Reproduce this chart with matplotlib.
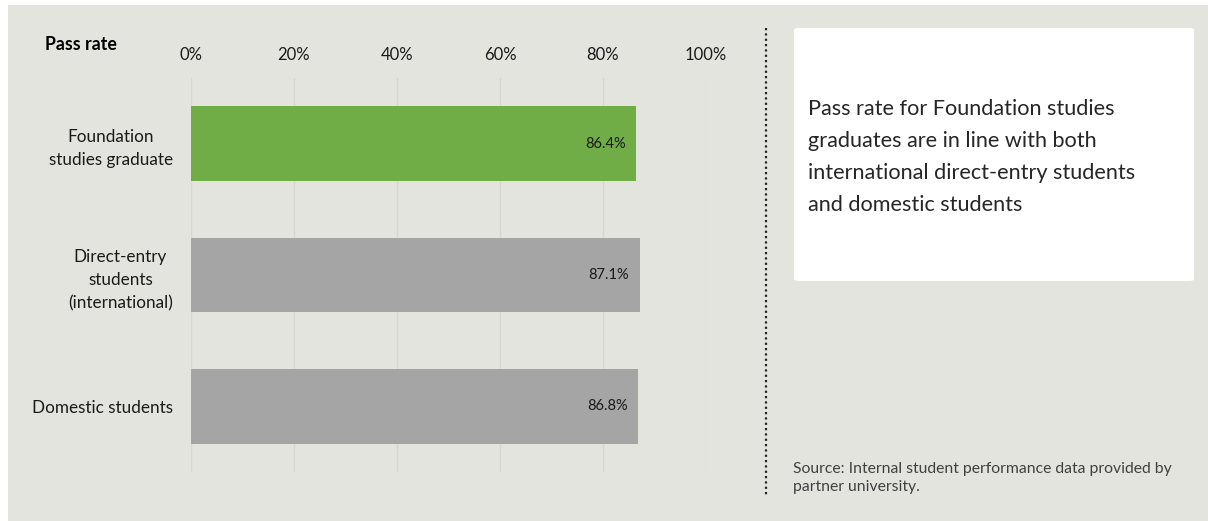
import matplotlib.pyplot as plt
from matplotlib.patches import Rectangle, FancyBboxPatch
from matplotlib.lines import Line2D

categories = ['Foundation\nstudies graduate', 'Direct-entry\nstudents\n(international)', 'Domestic students']
pass_rate = [0.864, 0.871, 0.868]
bar_colors = ['#70AD47', '#A5A5A5', '#A5A5A5']
ticks = [0, 0.2, 0.4, 0.6, 0.8, 1.0]
tick_labels = ['0%', '20%', '40%', '60%', '80%', '100%']
callout = ('Pass rate for Foundation studies\ngraduates are in line with both\n'
           'international direct-entry students\nand domestic students')
source = 'Source: Internal student performance data provided by\npartner university.'

plt.rcParams['font.family'] = ['Lato', 'DejaVu Sans']

W, H = 1208, 521
fig = plt.figure(figsize=(W / 100, H / 100), dpi=100)
fig.patch.set_facecolor('white')
bg = '#E4E4DF'

# grey panel behind everything
fig.patches.append(Rectangle((8 / W, 0), 1 - 8 / W, 1 - 5 / H, transform=fig.transFigure,
                             facecolor=bg, edgecolor='none', zorder=-5))

ax = fig.add_axes([191 / W, 1 - 472 / H, (706 - 191) / W, (472 - 78) / H])
ax.set_zorder(2)
ax.set_facecolor(bg)
ax.barh(range(len(categories)), pass_rate, height=0.57, color=bar_colors, zorder=3)
ax.set_xlim(0, 1)
ax.set_ylim(2.5, -0.5)
ax.set_xticks(ticks)
ax.set_xticklabels(tick_labels)
ax.xaxis.tick_top()
ax.tick_params(axis='x', length=0, pad=11, labelsize=12, colors='#1a1a1a')
ax.set_yticks(range(len(categories)))
ax.set_yticklabels(categories, fontsize=12.3, color='#1a1a1a', linespacing=1.55,
                   ha='right', multialignment='center')
ax.tick_params(axis='y', length=0, pad=13)
ax.grid(axis='x', color='#D6D6D3', lw=1, zorder=0)
for s in ax.spines.values():
    s.set_visible(False)

for i, v in enumerate(pass_rate):
    ax.text(v - 0.02, i, f'{v * 100:.1f}%', ha='right', va='center', fontsize=10.5, color='#1a1a1a', zorder=4)

fig.text(45 / W, 1 - 44 / H, 'Pass rate', fontsize=12.8, fontweight='bold', color='black', va='center')

# dotted divider
fig.lines.append(Line2D([766 / W, 766 / W], [1 - 28 / H, 1 - 495 / H], transform=fig.transFigure,
                        color='#222222', lw=1.6, linestyle=(0, (1, 1.4))))

# white callout box
fig.patches.append(FancyBboxPatch((794 / W, 1 - 281 / H), 400 / W, 253 / H, transform=fig.transFigure,
                                  boxstyle='round,pad=0,rounding_size=0.004', facecolor='white',
                                  edgecolor='none', zorder=1))
fig.text(808 / W, 1 - 157 / H, callout, fontsize=15.6, color='#262626',
         va='center', ha='left', linespacing=1.77, zorder=2)

fig.text(793 / W, 1 - 478 / H, source, fontsize=11.3, color='#404040', va='center', ha='left', linespacing=1.4)

plt.savefig('out.png', dpi=100, facecolor=fig.get_facecolor())
